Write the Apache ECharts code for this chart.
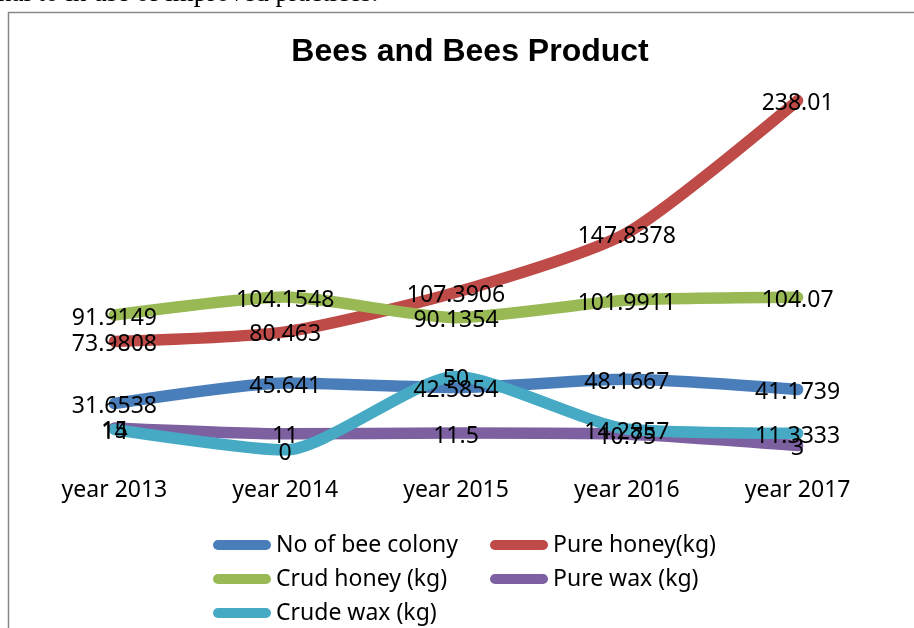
<!DOCTYPE html>
<html>
<head>
<meta charset="utf-8">
<script src="https://cdn.jsdelivr.net/npm/echarts@6/dist/echarts.min.js"></script>
<style>
html,body{margin:0;padding:0;background:#fff;}
#c{width:914px;height:628px;}
</style>
</head>
<body>
<div id="c"></div>
<script>
var categories = ['year 2013', 'year 2014', 'year 2015', 'year 2016', 'year 2017'];
var seriesNames = ['No of bee colony', 'Pure honey(kg)', 'Crud honey (kg)', 'Pure wax (kg)', 'Crude wax (kg)'];
var beeColony = [31.6538, 45.641, 42.5854, 48.1667, 41.1739];
var pureHoney = [73.9808, 80.463, 107.3906, 147.8378, 238.01];
var crudHoney = [91.9149, 104.1548, 90.1354, 101.9911, 104.07];
var pureWax = [15, 11, 11.5, 10.75, 3];
var crudeWax = [14, 0, 50, 14.2857, 11.3333];
var colors = ['#4a7ebb', '#be4b48', '#98b954', '#7d60a0', '#46aac5'];

var font = 'Noto Sans';
var allData = [beeColony, pureHoney, crudHoney, pureWax, crudeWax];

var series = allData.map(function (d, i) {
  return {
    name: seriesNames[i],
    type: 'line',
    data: d,
    smooth: 0.22,
    symbol: 'circle',
    symbolSize: 0,
    showSymbol: true,
    lineStyle: { width: 11.5, color: colors[i], cap: 'round', join: 'round' },
    itemStyle: { color: colors[i] },
    label: {
      show: true,
      position: 'inside',
      offset: [0, 3],
      color: '#000',
      fontFamily: font,
      fontSize: 23,
      formatter: function (p) { return String(p.value); }
    },
    emphasis: { disabled: true },
    animation: false
  };
});

var chart = echarts.init(document.getElementById('c'), null, { renderer: 'canvas' });
chart.setOption({
  animation: false,
  color: colors,
  title: {
    text: 'Bees and Bees Product',
    left: 465,
    textAlign: 'center',
    top: 31,
    textStyle: { fontFamily: 'Liberation Sans', fontWeight: 'bold', fontSize: 32, color: '#000' }
  },
  grid: { left: 29, right: 31, top: 83, height: 367 },
  xAxis: {
    type: 'category',
    data: categories,
    boundaryGap: true,
    axisLine: { show: false },
    axisTick: { show: false },
    axisLabel: { color: '#000', fontFamily: font, fontSize: 23, margin: 29 }
  },
  yAxis: {
    type: 'value',
    min: 0,
    max: 250,
    interval: 50,
    show: false
  },
  legend: {
    left: 208,
    top: 528,
    width: 560,
    itemWidth: 58,
    itemHeight: 10,
    itemGap: 10,
    icon: 'path://M5,0 L53,0 A5,5 0 0 1 53,10 L5,10 A5,5 0 0 1 5,0 Z',
    data: seriesNames,
    textStyle: { color: '#000', fontFamily: font, fontSize: 23, lineHeight: 24, width: 204 },
    selectedMode: false
  },
  graphic: [
    {
      type: 'rect',
      shape: { x: 8.5, y: 12.5, width: 940, height: 700 },
      style: { fill: 'none', stroke: '#888', lineWidth: 1.5 },
      silent: true
    },
    {
      type: 'text',
      left: -2,
      top: -20,
      style: { text: 'nal to in use of improved practices.', font: '27px "Liberation Serif"', fill: '#000' },
      silent: true
    }
  ],
  series: series
});
</script>
</body>
</html>
